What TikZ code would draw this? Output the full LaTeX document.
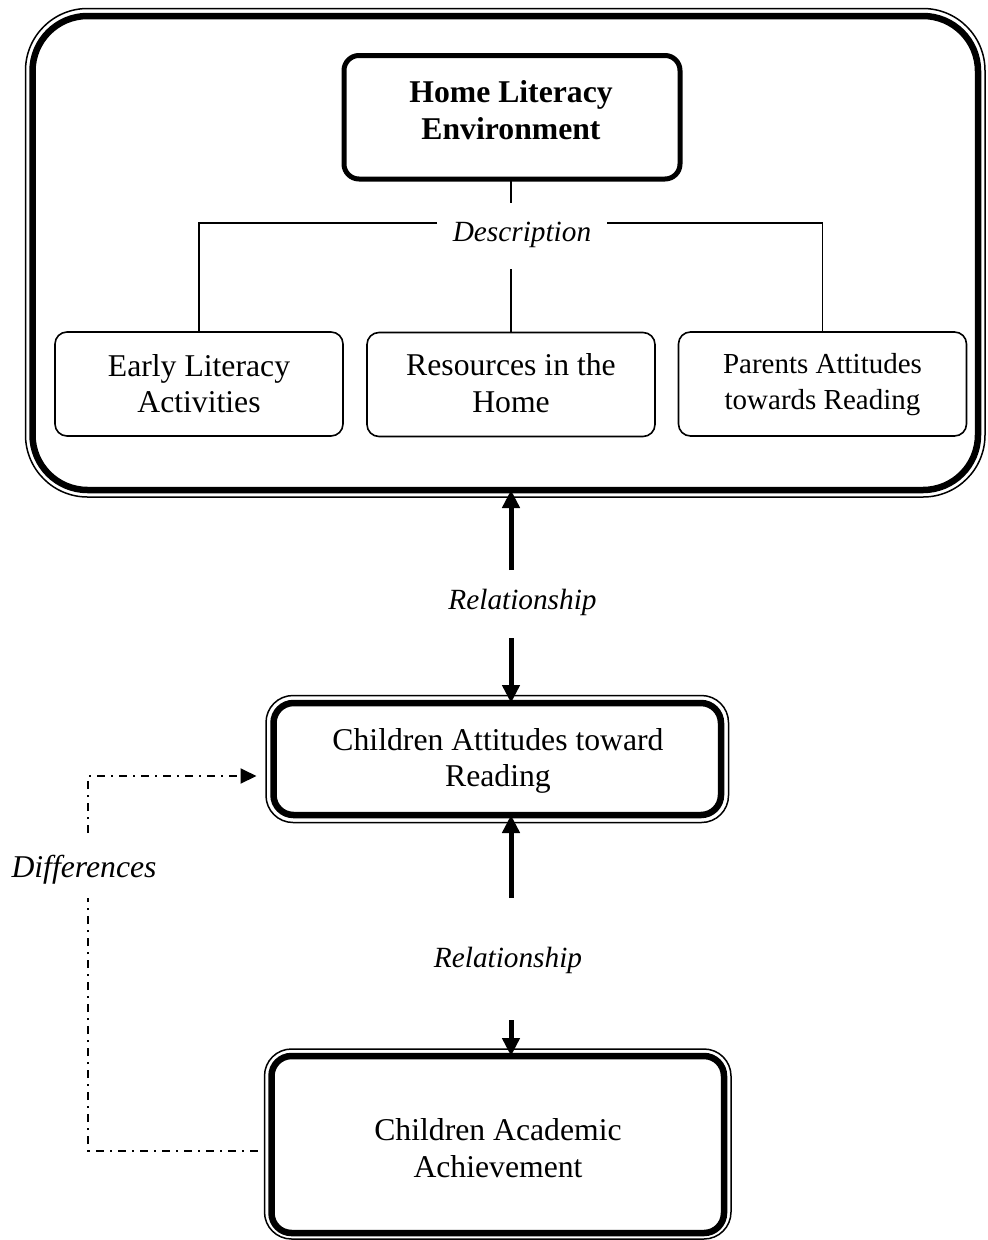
\documentclass[tikz,border=0pt]{standalone}
\usepackage{fontspec}
\setmainfont{Liberation Serif}
\usetikzlibrary{arrows.meta}
\begin{document}
\begin{tikzpicture}[x=1pt,y=-1pt,
  every node/.style={outer sep=0pt, inner sep=0pt},
  txt/.style={anchor=base, font=\fontsize{31.7}{37}\selectfont},
  txts/.style={anchor=base, font=\fontsize{29}{35}\selectfont},
  lbl/.style={anchor=base, font=\fontsize{29.3}{35}\selectfont\itshape},
  lblbig/.style={anchor=base, font=\fontsize{31.7}{37}\selectfont\itshape},
  smallbox/.style={draw, line width=1.6pt, rounded corners=12pt, minimum width=288pt, minimum height=104pt},
  hlebox/.style={draw, line width=5pt, rounded corners=15pt},
  thickbox/.style={draw, line width=6.5pt, rounded corners=20pt},
  thinframe/.style={draw, line width=1.5pt},
  conn/.style={line width=1.6pt},
  bigarr/.style={line width=5pt, -{Triangle[length=18pt,width=17pt]}},
  dashdot/.style={line width=2pt, dash pattern=on 8pt off 6pt on 2pt off 6pt},
]
\useasboundingbox (0,0) rectangle (988,1240);

% outer frame
\node[thickbox, rounded corners=55pt, minimum width=945.5pt, minimum height=474pt] (outer) at (505.25,253) {};
\draw[thinframe, rounded corners=62pt] ([shift={(-7,-7.5)}]outer.north west) rectangle ([shift={(7,7)}]outer.south east);

% Home literacy environment
\node[hlebox, minimum width=336pt, minimum height=123.5pt] (hle) at (512,117.25) {};
\node[txt, font=\fontsize{31.7}{37}\selectfont\bfseries] (hle1) at (511,102) {Home Literacy};
\node[txt, font=\fontsize{31.7}{37}\selectfont\bfseries] (hle2) at (511,139) {Environment};

% three description boxes
\node[smallbox] (early) at (199,384) {};
\node[txt] (early1) at (199,376) {Early Literacy};
\node[txt] (early2) at (199,412) {Activities};
\node[smallbox] (res) at (511,384.5) {};
\node[txt] (res1) at (511,375) {Resources in the};
\node[txt] (res2) at (511,412) {Home};
\node[smallbox] (par) at (822.5,384) {};
\node[txts] (par1) at (822.5,373) {Parents Attitudes};
\node[txts] (par2) at (822.5,409) {towards Reading};

% description connectors
\node[lbl] (desc) at (522,241) {Description};
\coordinate (dstub) at (511,203);
\coordinate (dl) at (437,223);
\coordinate (dr) at (607,223);
\coordinate (dm) at (511,269);
\draw[conn] (hle.south -| dstub) -- (dstub);
\draw[conn] (dl) -| (early.north);
\draw[conn] (dr) -| (par.north);
\draw[conn] (dm) -- (res.north);

% Children attitudes
\node[thickbox, minimum width=447.5pt, minimum height=112pt] (catr) at (497.25,759) {};
\draw[thinframe, rounded corners=27pt] ([shift={(-7.5,-7.5)}]catr.north west) rectangle ([shift={(7.5,7.5)}]catr.south east);
\node[txt] (catr1) at (498,750) {Children Attitudes toward};
\node[txt] (catr2) at (498,786) {Reading};

% Children academic achievement
\node[thickbox, minimum width=452.5pt, minimum height=177pt] (caa) at (497.75,1144.5) {};
\draw[thinframe, rounded corners=27pt] ([shift={(-7,-7)}]caa.north west) rectangle ([shift={(7,6)}]caa.south east);
\node[txt] (caa1) at (498,1140) {Children Academic};
\node[txt] (caa2) at (498,1177) {Achievement};

% relationships
\node[lbl] (rel1) at (522.5,609) {Relationship};
\coordinate (u1) at (511,570);
\coordinate (d1) at (511,638);
\draw[bigarr] (u1) -- (u1 |- outer.south);
\draw[bigarr] (d1) -- (d1 |- catr.north);

\node[lbl] (rel2) at (508,967) {Relationship};
\coordinate (u2) at (511,898);
\coordinate (d2) at (511,1020);
\draw[bigarr] (u2) -- (u2 |- catr.south);
\draw[bigarr] (d2) -- (d2 |- caa.north);

% differences
\node[lblbig] (diff) at (84,877) {Differences};
\coordinate (f1) at (88,833);
\coordinate (f2) at (88,898);
\draw[dashdot, -{Triangle[length=16pt,width=15pt]}] (f1) |- ([shift={(-17,17)}]catr.west);
\draw[dashdot] ([shift={(-14,6)}]caa.west) -| (f2);
\end{tikzpicture}
\end{document}
